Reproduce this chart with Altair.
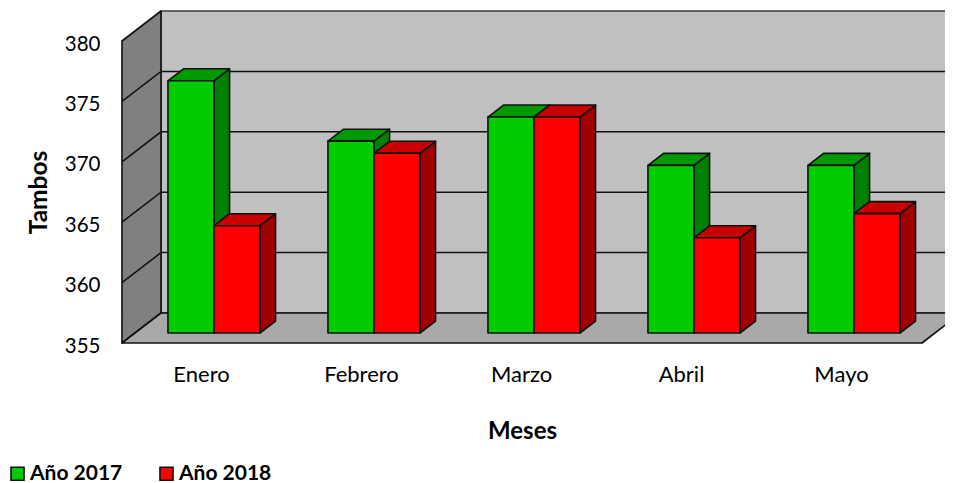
import altair as alt
import pandas as pd

months = ["Enero", "Febrero", "Marzo", "Abril", "Mayo"]
series_names = ["Año 2017", "Año 2018"]
v2017 = [376, 371, 373, 369, 369]
v2018 = [364, 370, 373, 363, 365]
y_ticks = [355, 360, 365, 370, 375, 380]
Y0, Y1 = 355, 380

# oblique projection of the depth axis, in scale units
DX = 39 / 160
DY = 30 / 12.08
BAR_D0 = 1 / 3
BAR_D1 = 0.733
BAR_LEFT = 0.206
BAR_W = 0.2875
TOP_DROP = 0.12
N = len(months)


def proj(x, v, d):
    return x + d * DX, v + d * DY


label_list = "[" + ",".join(f"'{m}'" for m in months) + "]"
AX_X = alt.Axis(
    values=[i + 0.5 for i in range(N)], labelExpr=f"{label_list}[floor(datum.value)]",
    title="Meses", titleX=400, titleY=76, domain=False, ticks=False, grid=False,
    labelPadding=21, labelFont="Lato", labelFontSize=22, labelColor="black", labelOffset=-1,
    labelFlush=False, labelOverlap=False,
    titleFont="Lato", titleFontSize=24, titleFontWeight="bold", titleColor="black")
AX_Y = alt.Axis(
    values=y_ticks, title="Tambos", titleX=-71, titleY=151, domain=False, ticks=False,
    grid=False, labelPadding=22, labelFont="Lato", labelFontSize=20.5, labelColor="black",
    labelOffset=3,
    titleFont="Lato", titleFontSize=24.5, titleFontWeight="bold", titleColor="black")

xs = alt.Scale(domain=[0, N], nice=False, zero=False)
ys = alt.Scale(domain=[Y0, Y1], nice=False, zero=False)
X = alt.X("x:Q", scale=xs, axis=AX_X)
Y = alt.Y("y:Q", scale=ys, axis=AX_Y, stack=None)
X_H = alt.X("x:Q", scale=xs, axis=AX_X, stack=None)
Y_H = alt.Y("y:Q", scale=ys, axis=AX_Y)
EDGE = dict(stroke="#101010", strokeWidth=1.6, strokeJoin="round")


def vert_face(rows, color, **kw):
    # rows: id, x, y, y2
    style = dict(EDGE)
    style.update(kw)
    return alt.Chart(pd.DataFrame(rows)).mark_area(fill=color, **style).encode(
        x=X, y=Y, y2="y2:Q", detail="id:N")


def horiz_face(rows, color, **kw):
    # rows: id, y, x, x2
    style = dict(EDGE)
    style.update(kw)
    return alt.Chart(pd.DataFrame(rows)).mark_area(fill=color, orient="horizontal", **style).encode(
        y=Y_H, x=X_H, x2="x2:Q", detail="id:N")


# room walls and floor
right = N + DX
wall_left = vert_face(
    [dict(id="w", x=0, y=Y0, y2=Y1), dict(id="w", x=DX, y=Y0 + DY, y2=Y1 + DY)], "#808080")
wall_back = vert_face(
    [dict(id="b", x=DX, y=Y0 + DY, y2=Y1 + DY), dict(id="b", x=right, y=Y0 + DY, y2=Y1 + DY)],
    "#c0c0c0", stroke="#3a3a3a")
floor = horiz_face(
    [dict(id="f", y=Y0, x=0, x2=N), dict(id="f", y=Y0 + DY, x=DX, x2=right)], "#a9a9a9")

# gridlines
grid_rows = []
for t in y_ticks[1:-1]:
    grid_rows += [dict(id=t, x=0, y=t), dict(id=t, x=DX, y=t + DY), dict(id=t, x=right, y=t + DY)]
grid = alt.Chart(pd.DataFrame(grid_rows)).mark_line(color="#101010", strokeWidth=1.5).encode(
    x=X, y=alt.Y("y:Q", scale=ys, axis=AX_Y), detail="id:N", order="x:Q")


def bars(values, slot, name, side, top):
    side_rows, top_rows, front_rows = [], [], []
    for i, value in enumerate(values):
        v = value - TOP_DROP
        x0 = i + BAR_LEFT + slot * BAR_W
        x1 = x0 + BAR_W
        a = proj(x1, Y0, BAR_D0)
        b = proj(x1, Y0, BAR_D1)
        top_a = proj(x0, v, BAR_D0)
        top_a2 = proj(x1, v, BAR_D0)
        top_b = proj(x0, v, BAR_D1)
        top_b2 = proj(x1, v, BAR_D1)
        side_rows += [dict(id=i, x=a[0], y=a[1], y2=top_a2[1]),
                      dict(id=i, x=b[0], y=b[1], y2=top_b2[1])]
        top_rows += [dict(id=i, y=top_a[1], x=top_a[0], x2=top_a2[0]),
                     dict(id=i, y=top_b[1], x=top_b[0], x2=top_b2[0])]
        front_rows.append(dict(x=top_a[0], x2=top_a2[0], y=a[1], y2=top_a2[1], serie=name))
    color = alt.Color("serie:N",
                      scale=alt.Scale(domain=series_names, range=["#00cc00", "#ff0000"]),
                      legend=alt.Legend(
                          title=None, orient="none", legendX=-115, legendY=422,
                          direction="horizontal", symbolType="square", symbolSize=170,
                          symbolStrokeColor="#101010", symbolStrokeWidth=1.6,
                          labelFont="Lato", labelFontSize=21, labelFontWeight="bold",
                          labelColor="black", labelLimit=200, columnPadding=33, labelOffset=2))
    front_layer = alt.Chart(pd.DataFrame(front_rows)).mark_rect(**EDGE).encode(
        x=X, x2="x2:Q", y=alt.Y("y:Q", scale=ys, axis=AX_Y), y2="y2:Q", color=color)
    return [vert_face(side_rows, side), horiz_face(top_rows, top), front_layer]


layers = [wall_back, wall_left, floor, grid]
layers += bars(v2017, 0, series_names[0], "#008000", "#009a00")
layers += bars(v2018, 1, series_names[1], "#a00000", "#c80000")

chart = alt.layer(*layers).properties(
    width=800, height=302,
    autosize=alt.AutoSizeParams(type="none"),
    padding={"left": 114, "top": 33, "right": 23, "bottom": 140},
    background="white",
).configure_view(stroke=None)

chart.save("out.html", embed_options={"renderer": "svg", "actions": False})
